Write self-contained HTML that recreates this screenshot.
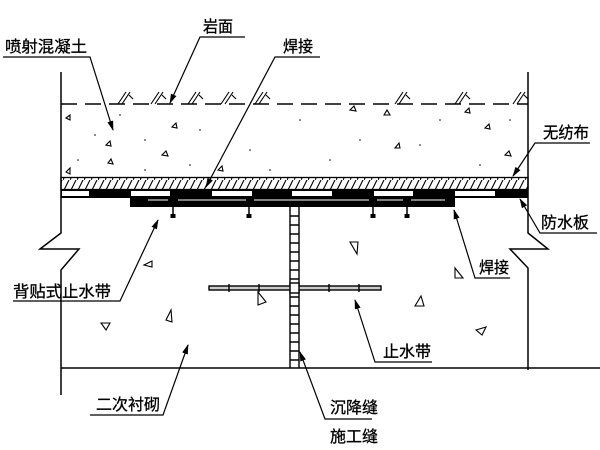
<!DOCTYPE html>
<html><head><meta charset="utf-8"><style>
html,body{margin:0;padding:0;background:#fff;}
svg{display:block;}
text{font-family:"Liberation Sans","Noto Sans CJK SC",sans-serif;font-size:16px;fill:#000;stroke:#000;stroke-width:0.3;}
</style></head><body>
<svg width="600" height="450" viewBox="0 0 600 450" xmlns="http://www.w3.org/2000/svg">
<defs>
<marker id="ar" markerWidth="10" markerHeight="6" refX="9" refY="3" orient="auto" markerUnits="userSpaceOnUse"><path d="M0,0 L10,3 L0,6 z" fill="#000"/></marker>
<pattern id="hatch" width="7" height="12" patternUnits="userSpaceOnUse"><path d="M0,12 L6,0" stroke="#000" stroke-width="1.1"/></pattern>
</defs>
<g stroke="#000" fill="none" stroke-width="1.5">
<polyline points="61,72 61,233 40,249 79,249 61,270 61,395"/>
<polyline points="528,72 528,233 548,249 510,249 528,268 528,370"/>
<line x1="61" y1="368" x2="600" y2="368"/>
<line x1="61" y1="104" x2="528" y2="104" stroke-dasharray="16,8"/>
</g>
<g stroke="#000" fill="none" stroke-width="1.1">
<path d="M118,104 l8,-12 M122,104 l8,-12 M129,95 l4,4"/>
<path d="M151,104 l8,-12 M155,104 l8,-12 M162,95 l4,4"/>
<path d="M188,104 l8,-12 M192,104 l8,-12 M199,95 l4,4"/>
<path d="M221,104 l8,-12 M225,104 l8,-12 M232,95 l4,4"/>
<path d="M255,104 l8,-12 M259,104 l8,-12 M266,95 l4,4"/>
<path d="M395,104 l8,-12 M399,104 l8,-12 M406,95 l4,4"/>
<path d="M455,104 l8,-12 M459,104 l8,-12 M466,95 l4,4"/>
<path d="M513,104 l8,-12 M517,104 l8,-12 M524,95 l4,4"/>
<path d="M66,118 l4,-3 l0,5z M172,127 l4,-4 l1,5z M106,145 l4,-4 l1,5z M162,155 l4,-4 l2,5z M108,163 l3,-4 l2,5z M66,172 l4,-4 l0,6z M218,170 l4,-4 l1,5z M384,115 l3,-5 l3,5z M395,148 l4,-5 l1,5z M465,112 l4,-4 l1,5z M485,128 l4,-4 l1,5z M505,155 l4,-4 l2,5z M350,110 l4,-4 l2,5z"/>
<path d="M144,265 l8,-4 l0,6z M101,323 l9,0 l-4,7z M166,320 l5,-10 l1,12z M258,305 l0,-13 l8,10z M350,242 l8,0 l-1,12z M455,268 l8,10 l-8,0z M415,306 l6,-10 l3,10z M476,330 l10,-3 l-4,8z"/>
</g>
<g fill="#000">
<circle cx="120" cy="115" r="0.8"/><circle cx="95" cy="135" r="0.8"/><circle cx="78" cy="160" r="0.8"/><circle cx="145" cy="140" r="0.8"/><circle cx="200" cy="130" r="0.8"/><circle cx="250" cy="150" r="0.8"/><circle cx="300" cy="120" r="0.8"/><circle cx="330" cy="160" r="0.8"/><circle cx="360" cy="140" r="0.8"/><circle cx="420" cy="145" r="0.8"/><circle cx="440" cy="120" r="0.8"/><circle cx="480" cy="165" r="0.8"/><circle cx="510" cy="120" r="0.8"/><circle cx="270" cy="170" r="0.8"/><circle cx="190" cy="165" r="0.8"/><circle cx="145" cy="170" r="0.8"/>
</g>
<rect x="61" y="177.5" width="467" height="12" fill="url(#hatch)" stroke="#000" stroke-width="1.3"/>
<rect x="61" y="190" width="467" height="8" fill="#000"/>
<g fill="#fff">
<rect x="62" y="191" width="27" height="5"/><rect x="131" y="191" width="39" height="5"/><rect x="212" y="191" width="40" height="5"/><rect x="292" y="191" width="40" height="5"/><rect x="374" y="191" width="39" height="5"/><rect x="455" y="191" width="40" height="5"/>
</g>
<rect x="130" y="198" width="325" height="9" fill="#000"/>
<g stroke="#aaa" stroke-width="1.5">
<line x1="148" y1="200" x2="168" y2="200"/><line x1="178" y1="200" x2="246" y2="200"/><line x1="254" y1="200" x2="369" y2="200"/><line x1="377" y1="200" x2="403" y2="200"/><line x1="411" y1="200" x2="445" y2="200"/>
</g>
<g stroke="#000" stroke-width="1.5">
<line x1="173" y1="207" x2="173" y2="215"/><line x1="249" y1="207" x2="249" y2="215"/><line x1="373" y1="207" x2="373" y2="215"/><line x1="407" y1="207" x2="407" y2="215"/>
</g>
<g fill="#000"><rect x="170.5" y="214" width="5" height="4"/><rect x="246.5" y="214" width="5" height="4"/><rect x="370.5" y="214" width="5" height="4"/><rect x="404.5" y="214" width="5" height="4"/></g>
<g stroke="#000" stroke-width="1.4" fill="none">
<line x1="290" y1="207" x2="290" y2="368"/><line x1="299" y1="207" x2="299" y2="368"/>
<path d="M290,216h9M290,225h9M290,234h9M290,243h9M290,252h9M290,261h9M290,270h9M290,279h9M290,297h9M290,306h9M290,315h9M290,324h9M290,333h9M290,342h9M290,351h9M290,360h9"/>
<rect x="209" y="286" width="172" height="4" fill="#ccc"/>
<rect x="290" y="283" width="9" height="10" fill="#fff"/>
<line x1="229" y1="284" x2="229" y2="292"/><line x1="259" y1="284" x2="259" y2="292"/><line x1="329" y1="284" x2="329" y2="292"/><line x1="359" y1="284" x2="359" y2="292"/>
</g>
<g stroke="#000" stroke-width="1.2" fill="none">
<polyline points="3,57 90,57 113,130" marker-end="url(#ar)"/>
<polyline points="245,37 200,37 170,103" marker-end="url(#ar)"/>
<polyline points="320,57 275,57 206,187" marker-end="url(#ar)"/>
<polyline points="590,143 535,143 513,176" marker-end="url(#ar)"/>
<polyline points="597,233 540,233 520,199" marker-end="url(#ar)"/>
<polyline points="510,278 475,278 454,210" marker-end="url(#ar)"/>
<polyline points="13,301 120,301 158,220" marker-end="url(#ar)"/>
<polyline points="432,362 375,362 355,300" marker-end="url(#ar)"/>
<polyline points="90,415 163,415 188,345" marker-end="url(#ar)"/>
<polyline points="372,419 325,419 300,352" marker-end="url(#ar)"/>
</g>
<text x="5" y="52" textLength="82" lengthAdjust="spacingAndGlyphs">喷射混凝土</text>
<text x="203" y="32" textLength="30" lengthAdjust="spacingAndGlyphs">岩面</text>
<text x="283" y="52" textLength="30" lengthAdjust="spacingAndGlyphs">焊接</text>
<text x="543" y="138" textLength="46" lengthAdjust="spacingAndGlyphs">无纺布</text>
<text x="541" y="228" textLength="48" lengthAdjust="spacingAndGlyphs">防水板</text>
<text x="479" y="273" textLength="30" lengthAdjust="spacingAndGlyphs">焊接</text>
<text x="13" y="297" textLength="98" lengthAdjust="spacingAndGlyphs">背贴式止水带</text>
<text x="383" y="357" textLength="48" lengthAdjust="spacingAndGlyphs">止水带</text>
<text x="96" y="410" textLength="64" lengthAdjust="spacingAndGlyphs">二次衬砌</text>
<text x="330" y="413" textLength="48" lengthAdjust="spacingAndGlyphs">沉降缝</text>
<text x="330" y="442" textLength="48" lengthAdjust="spacingAndGlyphs">施工缝</text>
</svg>
</body></html>
